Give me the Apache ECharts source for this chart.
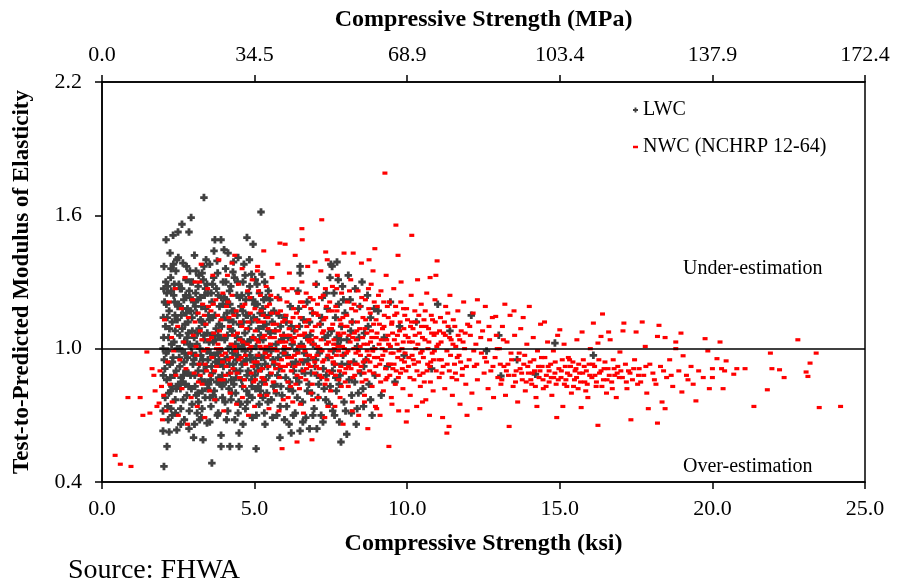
<!DOCTYPE html>
<html>
<head>
<meta charset="utf-8">
<script src="https://cdn.jsdelivr.net/npm/echarts@6/dist/echarts.min.js"></script>
<style>
  html, body { margin: 0; padding: 0; background: #fff; }
  #main { width: 898px; height: 586px; }
</style>
</head>
<body>
<div id="main"></div>
<script>
// axis ticks
var ksiTicks = ['0.0', '5.0', '10.0', '15.0', '20.0', '25.0'];
var mpaTicks = ['0.0', '34.5', '68.9', '103.4', '137.9', '172.4'];
var ratioTicks = ['0.4', '1.0', '1.6', '2.2'];

// LWC: [ksi, test/predicted]
var lwcPoints = [
  [2.0,0.63],[2.03,0.47],[2.03,1.37],[2.05,1.21],[2.08,1.10],[2.1,1.49],[2.1,0.98],[2.12,0.86],[2.13,0.56],[2.15,1.28],[2.15,0.74],[2.18,1.05],[2.2,0.625],[2.2,1.17],[2.22,0.93],[2.23,1.43],[2.25,1.32],[2.25,0.81],[2.28,1.02],[2.3,1.12],[2.3,0.70],[2.33,1.51],[2.33,0.96],[2.35,1.24],[2.37,0.88],[2.4,1.08],[2.4,0.77],[2.42,1.35],[2.45,1.40],[2.45,0.634],[2.46,1.00],[2.48,1.19],[2.49,1.525],[2.5,0.84],
  [2.52,1.29],[2.55,0.92],[2.55,1.06],[2.58,0.73],[2.6,1.15],[2.62,1.56],[2.62,0.99],[2.65,1.385],[2.65,0.85],[2.68,1.22],[2.7,1.03],[2.7,0.68],[2.72,1.11],[2.75,0.90],[2.75,1.31],[2.78,0.79],[2.8,1.18],[2.8,0.96],[2.83,1.07],[2.85,1.525],[2.85,0.64],[2.86,1.26],[2.88,1.35],[2.9,0.88],[2.92,1.59],[2.92,1.01],[2.95,1.14],[2.95,0.75],[2.98,0.93],[3.0,0.60],[3.0,1.21],
  [3.02,1.05],[3.05,0.83],[3.08,1.35],[3.08,0.97],[3.1,1.16],[3.12,0.71],[3.15,1.28],[3.15,0.90],[3.18,1.09],[3.2,0.68],[3.21,1.00],[3.22,1.23],[3.25,0.86],[3.27,1.12],[3.3,0.95],[3.31,0.59],[3.32,1.31],[3.34,1.68],[3.34,1.37],[3.35,1.04],[3.38,0.78],[3.4,1.18],[3.41,1.40],[3.42,0.92],[3.44,0.665],[3.45,1.07],[3.48,1.25],[3.5,0.84],
  [3.52,1.13],[3.55,0.98],[3.57,0.74],[3.6,0.485],[3.6,1.21],[3.62,0.89],[3.65,1.03],[3.67,1.44],[3.68,0.81],[3.7,1.49],[3.7,1.15],[3.72,0.94],[3.75,1.27],[3.77,1.395],[3.78,0.70],[3.8,1.06],[3.82,0.87],[3.85,1.19],[3.87,0.99],[3.9,0.56],[3.9,0.61],[3.9,1.49],[3.92,1.10],[3.95,0.78],[3.97,1.30],[3.98,0.92],
  [4.0,1.445],[4.02,1.04],[4.05,0.85],[4.07,1.22],[4.1,0.96],[4.12,0.72],[4.13,1.43],[4.15,1.13],[4.18,0.89],[4.19,0.56],[4.2,1.01],[4.22,1.28],[4.25,0.80],[4.27,1.08],[4.29,1.345],[4.3,0.93],[4.33,1.17],[4.35,0.68],[4.37,1.02],[4.4,0.87],[4.42,1.24],[4.45,0.97],[4.46,1.41],[4.48,0.76],[4.49,0.56],[4.49,0.62],[4.5,1.11],
  [4.52,0.90],[4.55,1.19],[4.58,1.00],[4.6,0.83],[4.62,1.30],[4.65,1.38],[4.65,0.94],[4.68,1.07],[4.7,0.73],[4.72,1.15],[4.75,1.50],[4.75,0.88],[4.78,1.03],[4.8,1.25],[4.82,0.79],[4.85,0.97],[4.88,1.12],[4.9,1.335],[4.9,0.86],[4.93,0.69],[4.95,1.47],[4.95,1.05],[4.98,0.92],
  [5.0,1.20],[5.03,0.82],[5.05,0.55],[5.05,1.01],[5.08,1.29],[5.1,0.90],[5.13,1.09],[5.15,0.75],[5.18,1.16],[5.21,1.615],[5.22,0.96],[5.24,1.335],[5.25,0.85],[5.28,1.04],[5.3,1.22],[5.32,0.71],[5.35,0.93],[5.38,1.11],[5.4,0.80],[5.42,1.00],[5.45,1.26],[5.48,0.88],
  [5.52,1.07],[5.55,0.77],[5.6,0.95],[5.63,1.17],[5.67,0.84],[5.7,1.02],[5.73,0.70],[5.77,1.23],[5.8,0.91],[5.83,0.60],[5.85,1.10],[5.9,0.79],[5.93,0.98],[5.97,1.14],
  [6.02,0.87],[6.05,0.74],[6.1,1.05],[6.13,0.66],[6.17,1.19],[6.2,0.62],[6.2,0.93],[6.25,0.81],[6.3,1.08],[6.33,0.71],[6.38,0.99],[6.42,1.26],[6.45,0.85],[6.49,1.37],[6.49,1.34],[6.49,0.63],
  [6.53,1.02],[6.57,0.76],[6.6,1.13],[6.65,0.89],[6.68,0.69],[6.72,1.21],[6.75,0.95],[6.8,0.64],[6.82,1.06],[6.87,0.80],[6.9,1.16],[6.95,0.73],[6.98,0.92],
  [7.02,1.29],[7.04,0.64],[7.07,1.00],[7.1,0.84],[7.15,1.11],[7.18,0.70],[7.22,1.23],[7.25,0.91],[7.3,1.05],[7.33,0.77],[7.38,1.18],[7.42,0.96],[7.47,1.32],[7.48,0.83],
  [7.5,1.38],[7.52,1.08],[7.54,1.37],[7.56,0.72],[7.6,1.25],[7.62,0.93],[7.65,1.14],[7.68,0.81],[7.7,1.39],[7.72,1.02],[7.75,1.20],[7.78,0.67],[7.8,0.88],[7.83,0.58],[7.85,1.10],[7.88,1.28],[7.9,0.97],[7.93,0.76],[7.96,1.16],
  [8.02,0.615],[8.03,1.04],[8.07,1.33],[8.1,0.86],[8.13,1.22],[8.17,0.71],[8.2,1.12],[8.25,0.94],[8.3,1.27],[8.33,0.66],[8.37,1.01],[8.4,0.80],[8.45,1.19],[8.48,0.89],
  [8.52,1.30],[8.57,0.74],[8.6,1.07],[8.65,0.95],[8.7,1.24],[8.75,0.84],[8.8,1.14],[8.85,0.70],[8.9,1.00],[8.95,0.88],
  [9.05,1.17],[9.15,0.79],[9.25,1.05],[9.35,0.92],[9.45,1.21],[9.6,0.85],[9.75,1.10],[9.9,0.97],
  [10.3,1.12],[10.8,0.91],[11.0,1.20],[11.4,1.08],[12.1,1.15],[12.6,0.99],[13.0,1.06],[13.07,0.877],[13.6,0.95],[14.2,0.885],[14.84,1.025],[16.1,0.97],
  [2.06,0.91],[2.14,1.14],[2.19,0.80],[2.27,1.26],[2.36,1.03],[2.43,0.90],[2.51,1.20],[2.57,0.82],[2.63,1.09],[2.69,0.94],[2.74,1.24],[2.79,1.05],[2.84,0.83],[2.91,1.17],[2.97,1.30],
  [3.04,0.88],[3.11,1.02],[3.16,0.76],[3.23,1.13],[3.29,0.81],[3.36,1.24],[3.43,0.99],[3.49,1.15],[3.56,0.86],[3.61,1.06],[3.66,1.32],[3.73,0.77],[3.79,0.98],[3.84,1.11],[3.89,0.84],[3.96,1.20],
  [4.04,0.95],[4.09,1.16],[4.16,0.82],[4.21,1.09],[4.28,0.98],[4.34,1.32],[4.39,0.90],[4.44,1.05],[4.51,1.23],[4.57,0.86],[4.63,1.12],[4.69,0.99],[4.74,0.81],[4.81,1.09],[4.87,0.95],[4.94,1.22],
  [5.01,0.88],[5.07,1.13],[5.14,0.97],[5.2,1.06],[5.27,0.78],[5.33,1.15],[5.39,0.99],[5.46,1.08],
  [2.09,1.30],[2.24,0.87],[2.39,1.15],[2.54,1.00],[2.67,0.88],[2.82,1.12],[2.94,0.98],[3.07,1.25],[3.19,0.93],[3.33,1.06],[3.46,0.82],[3.58,1.25],[3.71,1.04],[3.86,0.93],
  [4.01,1.23],[4.14,1.00],[4.26,1.17],[4.41,0.95],[4.56,1.04],[4.71,1.22],[4.86,1.04],[5.11,0.93],[5.26,1.18],[5.36,0.86],[5.49,1.01],[5.58,1.12],[5.75,0.88],[5.88,1.04],
  [6.07,0.97],[6.28,0.90],[6.47,1.10],[6.63,0.98],[6.85,0.89],[7.12,0.98],[7.35,0.88],
  [2.01,0.88],[2.01,1.14],[2.0,0.72],[2.02,1.27],[2.0,1.00],[2.04,0.95],
  [2.02,1.05],[2.07,0.78],[2.11,1.20],[2.16,0.99],[2.21,1.09],[2.26,0.73],[2.31,0.94],[2.34,1.38],[2.38,1.21],[2.44,0.82],[2.47,1.13],[2.53,0.96],[2.56,1.27],[2.59,0.87],[2.64,1.18],[2.66,0.77],[2.71,0.98],[2.76,1.16],[2.81,0.89],[2.87,1.02],[2.89,1.23],[2.93,0.82],[2.96,1.08],
  [3.01,0.95],[3.06,1.19],[3.09,0.79],[3.13,1.07],[3.17,1.33],[3.24,0.97],[3.26,1.19],[3.28,0.73],[3.34,0.90],[3.37,1.11],[3.44,1.29],[3.47,0.95],[3.51,1.03],[3.54,0.78],[3.59,0.92],[3.63,1.14],[3.69,0.97],[3.74,1.09],[3.76,0.85],[3.81,1.24],[3.83,0.95],[3.88,1.05],[3.94,0.88],[3.99,1.14],
  [4.03,0.76],[4.06,1.30],[4.11,1.06],[4.17,0.93],[4.19,1.20],[4.24,0.86],[4.3,1.12],[4.36,0.99],[4.38,0.80],[4.43,1.15],[4.47,1.01],[4.53,0.75],[4.59,0.93],[4.61,1.17],[4.66,1.02],[4.73,0.95],[4.77,1.15],[4.79,0.90],[4.84,1.28],[4.89,1.00],[4.92,0.78],[4.97,1.14],
  [5.04,0.96],[5.09,1.20],[5.12,0.83],[5.17,1.04],[5.23,0.91],[5.29,1.10],[5.31,0.96],[5.37,1.23],[5.43,0.92],[5.47,1.15],[5.54,0.99],[5.62,0.83],[5.68,1.08],[5.78,0.96],[5.86,0.83],[5.95,1.06],
  [6.04,1.12],[6.15,0.85],[6.23,1.02],[6.35,0.94],[6.44,1.18],[6.55,0.90],[6.7,1.05],[6.78,0.84],[6.92,1.02],[7.05,0.88],[7.2,1.14],[7.28,0.82],[7.4,1.06],[7.58,0.99],[7.66,0.87],[7.74,1.31],[7.82,1.04],[7.91,1.22],
  [8.05,0.93],[8.15,1.08],[8.28,0.85],[8.42,1.05],[8.58,0.92],[8.72,1.10],[8.92,1.18],
  [2.17,0.68],[2.29,0.83],[2.41,0.71],[2.58,0.66],[2.73,0.84],[2.86,0.72],[3.03,0.66],[3.14,0.80],[3.26,0.69],[3.39,0.85],[3.53,0.67],[3.64,0.79],[3.81,0.71],[3.93,0.83],
  [4.08,0.68],[4.23,0.77],[4.32,0.84],[4.46,0.71],[4.62,0.66],[4.76,0.76],[4.91,0.83],[5.06,0.70],[5.19,0.81],[5.34,0.66],[5.44,0.76],[5.59,0.69],[5.71,0.80],[5.84,0.74],[5.98,0.68],
  [6.12,0.82],[6.27,0.70],[6.4,0.78],[6.58,0.67],[6.73,0.81],[6.91,0.70],[7.08,0.78],[7.24,0.67],[7.45,0.75],[7.62,0.70],[7.77,0.84],[7.98,0.72],[8.18,0.79],[8.36,0.73],[8.55,0.82],[8.8,0.77],
  [2.12,1.25],[2.26,1.36],[2.37,1.29],[2.5,1.41],[2.61,1.27],[2.77,1.37],[2.9,1.30],[3.03,1.42],[3.14,1.22],[3.28,1.34],[3.39,1.27],[3.53,1.38],[3.62,1.29],[3.79,1.34],[3.91,1.23],
  [4.05,1.36],[4.18,1.26],[4.31,1.39],[4.44,1.30],[4.58,1.24],[4.69,1.33],[4.83,1.40],[5.02,1.31],[5.16,1.25],[5.33,1.30],[5.5,1.22],
  [5.65,0.93],[5.8,1.15],[6.0,1.00],[6.2,1.10],[6.37,0.87],[6.6,0.94],[6.8,1.12],[7.0,0.95],[7.17,0.87],[7.35,1.25],[7.55,0.90],[7.7,1.05],[7.86,0.93]
];

// NWC (NCHRP 12-64): [ksi, test/predicted]
var nwcPoints = [
  [0.43,0.52],[0.6,0.48],[0.95,0.47],[0.85,0.78],[1.25,0.78],[1.34,0.70],[1.47,0.985],[1.57,0.71],[1.64,0.91],[1.7,0.88],[1.74,0.81],[1.8,0.74],[1.87,0.755],[1.9,0.90],[1.95,0.83],[1.98,0.68],
  [2.02,0.79],[2.05,1.13],[2.1,0.72],[2.15,0.94],[2.2,1.21],[2.22,0.84],[2.28,1.05],[2.3,0.76],[2.35,0.99],[2.4,1.27],[2.42,0.88],[2.48,1.10],[2.5,0.70],[2.55,0.95],[2.6,1.18],[2.62,0.82],[2.68,1.03],[2.72,1.32],[2.75,0.91],[2.8,0.66],[2.83,1.14],[2.88,0.98],[2.92,0.78],[2.97,1.22],[2.99,1.06],
  [3.02,0.89],[3.05,1.30],[3.08,1.01],[3.12,0.74],[3.15,1.16],[3.18,0.93],[3.2,1.30],[3.22,1.08],[3.25,1.38],[3.28,0.84],[3.3,1.20],[3.33,0.99],[3.37,0.69],[3.4,1.11],[3.43,0.90],[3.46,1.27],[3.5,1.04],[3.53,0.81],[3.57,1.17],[3.6,0.96],[3.63,1.33],[3.66,1.07],[3.7,0.77],[3.73,1.22],[3.76,0.92],[3.8,1.02],[3.83,1.40],[3.86,0.86],[3.9,1.13],[3.93,0.97],[3.96,1.25],[3.99,0.72],
  [4.02,1.06],[4.05,0.88],[4.08,1.19],[4.11,1.33],[4.14,0.95],[4.17,1.10],[4.2,0.80],[4.23,1.02],[4.26,1.24],[4.26,1.385],[4.29,0.91],[4.32,1.15],[4.35,1.42],[4.38,0.99],[4.41,0.75],[4.44,1.07],[4.47,1.29],[4.5,0.87],[4.53,1.12],[4.56,0.96],[4.59,1.36],[4.62,1.03],[4.65,0.83],[4.68,1.20],[4.71,0.93],[4.74,1.09],[4.77,1.26],[4.8,0.70],[4.83,1.00],[4.86,1.16],[4.89,0.89],[4.92,1.31],[4.95,1.05],[4.98,0.94],
  [5.01,1.18],[5.03,0.86],[5.06,1.04],[5.09,1.35],[5.1,1.37],[5.11,0.97],[5.14,1.12],[5.17,0.79],[5.19,1.24],[5.22,1.00],[5.25,0.91],[5.28,1.15],[5.3,1.44],[5.33,1.06],[5.36,0.84],[5.38,1.28],[5.41,0.96],[5.44,1.09],[5.47,0.73],[5.49,1.20],[5.52,1.02],[5.55,0.89],[5.57,1.32],[5.6,1.11],[5.63,0.94],[5.65,1.05],[5.68,0.81],[5.71,1.23],[5.74,0.99],[5.76,1.38],[5.79,1.08],[5.82,0.87],[5.83,1.475],[5.85,1.17],[5.88,0.95],[5.9,0.55],[5.91,1.03],[5.94,0.77],[5.96,1.27],[5.99,1.13],
  [6.0,1.47],[6.01,0.92],[6.04,1.06],[6.06,1.21],[6.09,0.85],[6.12,1.00],[6.14,1.34],[6.17,1.12],[6.2,0.90],[6.22,1.04],[6.25,0.76],[6.28,1.18],[6.3,0.97],[6.33,1.42],[6.36,1.08],[6.39,0.58],[6.39,0.88],[6.41,1.25],[6.44,1.01],[6.47,0.82],[6.49,1.14],[6.52,0.95],[6.55,1.30],[6.55,1.54],[6.56,1.49],[6.57,1.06],[6.6,0.71],[6.63,1.19],[6.65,0.99],[6.68,0.86],[6.71,1.10],[6.74,1.37],[6.76,0.93],[6.79,1.03],[6.82,1.23],[6.85,0.80],[6.88,0.59],[6.88,1.08],[6.9,0.96],[6.93,1.16],[6.96,0.89],[6.98,1.29],[6.98,1.39],
  [7.01,1.05],[7.03,0.92],[7.06,1.20],[7.09,0.78],[7.11,1.11],[7.14,1.00],[7.17,1.35],[7.2,1.58],[7.2,0.87],[7.22,1.07],[7.25,1.24],[7.28,0.95],[7.3,0.69],[7.33,1.14],[7.33,1.435],[7.36,1.02],[7.38,1.40],[7.41,0.90],[7.44,1.17],[7.47,0.99],[7.49,0.81],[7.52,1.09],[7.55,1.28],[7.57,0.94],[7.6,1.04],[7.63,0.74],[7.66,1.19],[7.68,0.97],[7.71,1.33],[7.74,1.07],[7.76,0.86],[7.79,1.13],[7.82,0.92],[7.85,1.25],[7.88,1.01],[7.9,0.66],[7.93,1.43],[7.95,0.89],[7.98,1.10],
  [8.01,0.98],[8.04,1.21],[8.07,0.83],[8.09,1.06],[8.12,0.94],[8.15,1.31],[8.17,1.12],[8.2,0.76],[8.23,1.43],[8.25,1.00],[8.28,0.88],[8.31,1.17],[8.33,1.04],[8.36,0.93],[8.39,1.26],[8.41,0.70],[8.44,1.09],[8.47,0.97],[8.5,1.385],[8.52,0.85],[8.55,1.14],[8.58,1.02],[8.6,0.79],[8.63,1.22],[8.66,0.95],[8.68,1.07],[8.71,0.64],[8.74,1.18],[8.75,1.40],[8.77,0.90],[8.8,1.03],[8.82,1.29],[8.85,0.83],[8.88,1.35],[8.9,1.11],[8.93,0.96],[8.94,1.45],[8.96,0.74],[8.99,1.05],
  [9.02,1.19],[9.05,0.88],[9.08,1.02],[9.11,0.70],[9.14,1.26],[9.16,0.95],[9.19,1.09],[9.22,0.81],[9.25,1.15],[9.27,1.79],[9.28,0.99],[9.31,1.33],[9.34,0.87],[9.37,1.06],[9.4,0.56],[9.4,0.93],[9.42,1.21],[9.45,1.01],[9.48,0.78],[9.5,1.12],[9.53,0.91],[9.56,1.27],[9.58,1.04],[9.61,0.84],[9.63,1.556],[9.66,1.16],[9.69,0.96],[9.7,1.42],[9.72,0.72],[9.75,1.08],[9.78,0.89],[9.8,1.30],[9.83,1.00],[9.86,0.82],[9.88,1.18],[9.91,0.94],[9.94,1.06],[9.97,0.67],
  [10.01,1.13],[10.04,0.92],[10.07,1.03],[10.1,0.79],[10.13,1.24],[10.15,1.51],[10.16,0.97],[10.19,1.09],[10.22,0.86],[10.25,1.17],[10.28,1.00],[10.31,0.74],[10.34,1.31],[10.37,0.94],[10.4,1.07],[10.43,0.83],[10.46,1.20],[10.49,0.99],[10.52,0.89],[10.55,1.13],[10.58,1.04],[10.61,0.77],[10.64,1.25],[10.67,0.93],[10.7,1.09],[10.73,0.70],[10.75,1.32],[10.76,0.85],[10.79,1.15],[10.82,0.98],[10.85,0.81],[10.88,1.06],[10.91,1.22],[10.94,1.33],[10.95,0.90],[10.98,1.395],
  [11.02,1.02],[11.05,0.87],[11.09,1.14],[11.12,0.95],[11.16,0.69],[11.19,1.07],[11.23,0.82],[11.26,1.19],[11.3,0.62],[11.3,0.99],[11.34,1.10],[11.37,0.65],[11.38,0.90],[11.4,1.24],[11.44,1.04],[11.48,0.79],[11.51,1.13],[11.55,0.93],[11.59,1.01],[11.62,0.86],[11.66,1.17],[11.7,0.97],[11.73,0.75],[11.77,1.08],[11.81,0.91],[11.85,1.21],[11.88,1.00],[11.92,0.84],[11.96,0.70],[11.98,1.11],
  [12.03,0.95],[12.07,1.06],[12.12,0.80],[12.16,1.16],[12.2,0.92],[12.25,1.02],[12.3,0.86],[12.3,1.22],[12.34,1.12],[12.38,0.73],[12.43,0.98],[12.47,1.08],[12.52,0.89],[12.56,1.19],[12.6,0.94],[12.65,0.82],[12.7,1.04],[12.74,0.90],[12.79,1.14],[12.83,0.78],[12.88,0.96],[12.9,1.145],[12.92,1.06],[12.97,0.87],
  [13.02,1.00],[13.07,0.84],[13.12,1.10],[13.17,0.92],[13.2,1.20],[13.22,0.79],[13.27,1.03],[13.32,0.88],[13.34,0.65],[13.37,1.15],[13.42,0.95],[13.47,0.83],[13.5,1.17],[13.52,1.06],[13.57,0.90],[13.62,0.76],[13.67,0.98],[13.72,1.09],[13.77,0.86],[13.8,1.14],[13.82,0.93],[13.87,0.81],[13.92,1.02],[13.97,0.89],[14.0,1.19],
  [14.03,0.94],[14.08,0.84],[14.13,1.05],[14.17,0.90],[14.22,0.78],[14.25,0.74],[14.27,0.99],[14.32,0.87],[14.37,1.11],[14.42,0.92],[14.46,0.82],[14.5,1.12],[14.51,0.96],[14.56,0.88],[14.6,1.03],[14.65,0.85],[14.7,0.93],[14.74,0.79],[14.79,0.99],[14.84,0.89],[14.88,0.84],[14.9,0.69],[14.93,1.06],[14.97,0.91],
  [15.0,1.085],[15.04,0.87],[15.1,0.74],[15.14,1.02],[15.18,0.92],[15.23,0.83],[15.28,0.96],[15.33,0.88],[15.38,0.80],[15.43,0.94],[15.48,0.86],[15.53,0.91],[15.56,1.04],[15.6,0.82],[15.65,0.89],[15.7,0.735],[15.73,1.075],[15.77,0.95],[15.82,0.85],[15.87,0.90],[15.92,0.78],[15.96,0.93],
  [16.0,1.0],[16.05,0.87],[16.1,1.115],[16.14,0.92],[16.19,0.83],[16.25,1.025],[16.25,0.655],[16.3,0.89],[16.35,1.055],[16.4,1.156],[16.43,0.86],[16.48,0.94],[16.53,0.80],[16.58,0.91],[16.6,1.075],[16.65,1.04],[16.7,0.85],[16.75,0.95],[16.8,0.88],[16.85,0.78],[16.9,0.92],[16.97,0.985],
  [17.05,0.87],[17.07,1.08],[17.1,1.115],[17.15,0.93],[17.2,0.82],[17.25,0.90],[17.33,0.68],[17.38,0.86],[17.45,0.95],[17.5,1.075],[17.55,0.84],[17.6,0.91],[17.7,1.12],[17.75,0.88],[17.8,1.01],[17.85,0.80],[17.9,0.73],[17.95,0.93],
  [18.05,0.89],[18.15,0.84],[18.2,1.055],[18.2,0.665],[18.25,1.105],[18.3,0.92],[18.35,0.76],[18.45,1.05],[18.45,0.73],[18.5,0.87],[18.6,0.95],[18.7,0.83],[18.8,1.0],[18.8,1.03],[18.9,0.90],[18.97,1.07],
  [19.0,0.805],[19.04,0.968],[19.15,0.88],[19.3,0.92],[19.37,0.84],[19.46,0.765],[19.55,0.90],[19.7,0.87],[19.76,1.045],[19.85,0.99],[19.9,0.82],[20.0,0.91],[20.0,0.87],
  [20.15,0.955],[20.25,1.03],[20.3,0.91],[20.35,0.82],[20.4,0.90],[20.45,0.945],[20.7,0.885],[20.8,0.91],[21.07,0.91],[21.36,0.74],[21.8,0.815],[21.9,0.98],[21.95,0.91],[22.2,0.905],[22.35,0.87],[22.8,1.04],[23.07,0.895],[23.13,0.875],[23.2,0.935],[23.4,0.98],[23.5,0.735],[24.2,0.74],
  [4.04,0.98],[4.13,1.21],[4.22,0.89],[4.31,1.06],[4.4,1.17],[4.49,0.95],[4.58,1.10],[4.67,0.86],[4.76,1.02],[4.85,1.23],[4.94,0.92],
  [5.02,1.08],[5.08,0.94],[5.13,1.26],[5.18,1.01],[5.24,0.87],[5.29,1.12],[5.34,0.98],[5.4,1.19],[5.45,0.92],[5.5,1.05],[5.56,1.16],[5.61,0.85],[5.66,1.00],[5.72,1.11],[5.77,0.93],[5.83,1.22],[5.88,1.06],[5.93,0.90],[5.98,1.01],
  [6.03,1.15],[6.08,0.96],[6.13,1.09],[6.18,0.83],[6.23,1.27],[6.27,1.03],[6.32,0.92],[6.37,1.16],[6.42,0.98],[6.46,1.06],[6.51,0.87],[6.56,1.21],[6.61,1.01],[6.66,1.12],[6.7,0.91],[6.75,1.04],[6.8,0.97],[6.84,1.18],[6.89,0.84],[6.94,1.02],[6.99,1.10],
  [7.04,0.97],[7.08,1.15],[7.13,0.88],[7.18,1.04],[7.23,0.94],[7.27,1.13],[7.32,1.27],[7.37,0.86],[7.42,1.03],[7.46,1.21],[7.51,0.96],[7.56,1.11],[7.61,1.00],[7.65,0.88],[7.7,1.17],[7.75,0.99],[7.8,1.06],[7.84,0.83],[7.89,1.14],[7.94,1.00],[7.99,0.91],
  [8.03,1.10],[8.08,0.92],[8.13,1.03],[8.18,1.18],[8.22,0.87],[8.27,1.07],[8.32,0.98],[8.37,1.12],[8.42,0.90],[8.46,1.01],[8.51,1.23],[8.56,0.94],[8.61,1.09],[8.65,0.86],[8.7,1.02],[8.75,0.97],[8.79,1.16],[8.84,1.05],[8.89,0.89],[8.94,1.00],[8.98,1.13],
  [9.03,0.96],[9.09,1.11],[9.13,0.85],[9.18,1.00],[9.23,1.21],[9.29,0.91],[9.33,1.04],[9.38,1.14],[9.43,0.88],[9.47,0.98],[9.52,1.07],[9.57,0.93],[9.62,1.19],[9.67,1.02],[9.71,0.87],[9.77,1.12],[9.82,0.95],[9.87,1.03],[9.92,1.15],[9.96,0.90],
  [10.03,1.05],[10.09,0.87],[10.14,1.12],[10.2,0.95],[10.26,1.06],[10.32,0.90],[10.38,1.15],[10.44,0.98],[10.5,1.05],[10.56,0.85],[10.62,1.10],[10.68,1.00],[10.74,0.92],[10.8,1.07],[10.86,0.95],[10.92,1.12],[10.97,1.01],
  [11.06,1.08],[11.14,0.89],[11.22,1.12],[11.31,0.93],[11.39,1.05],[11.47,0.87],[11.56,1.10],[11.64,0.96],[11.72,1.04],[11.8,0.88],[11.9,1.07],
  [3.05,1.12],[3.16,0.85],[3.27,1.04],[3.38,0.93],[3.49,1.19],[3.59,1.05],[3.69,0.90],[3.79,1.15],[3.89,1.00],[3.97,0.86],
  [13.1,0.86],[13.3,0.93],[13.5,0.88],[13.7,0.91],[13.9,0.85],[14.1,0.89],[14.3,0.92],[14.45,0.86],[14.65,0.90],[14.8,0.87],[15.05,0.90],[15.2,0.86],[15.35,0.92],[15.55,0.87],[15.75,0.89],[15.9,0.84],[16.15,0.88],[16.35,0.90],[16.55,0.86],[16.78,0.91],[16.95,0.87],[17.3,0.89],[17.65,0.85],
  [4.07,0.92],[4.16,1.14],[4.25,0.96],[4.34,1.01],[4.43,0.89],[4.52,1.04],[4.61,1.19],[4.7,0.97],[4.79,1.12],[4.88,1.01],[4.97,0.85],
  [5.04,1.13],[5.12,1.03],[5.16,0.90],[5.21,1.17],[5.27,1.05],[5.31,0.86],[5.37,1.01],[5.43,1.14],[5.48,0.97],[5.53,1.24],[5.58,1.00],[5.64,1.08],[5.69,0.91],[5.75,1.16],[5.8,1.03],[5.86,0.92],[5.92,1.12],[5.97,0.98],
  [6.02,1.03],[6.07,1.26],[6.11,0.93],[6.16,1.06],[6.21,0.96],[6.26,1.14],[6.31,1.05],[6.35,0.84],[6.4,1.10],[6.45,0.93],[6.5,1.21],[6.54,1.01],[6.59,0.90],[6.64,1.07],[6.69,1.25],[6.73,0.97],[6.78,1.13],[6.83,0.92],[6.87,1.04],[6.92,1.22],[6.97,0.94],
  [7.02,1.16],[7.07,1.01],[7.12,0.91],[7.16,1.23],[7.21,0.99],[7.26,1.08],[7.31,0.84],[7.35,1.19],[7.4,0.97],[7.45,1.09],[7.5,0.89],[7.54,1.17],[7.59,1.02],[7.64,0.93],[7.69,1.27],[7.73,1.01],[7.78,0.90],[7.83,1.11],[7.87,0.97],[7.92,1.07],[7.97,0.85],
  [8.02,1.15],[8.06,0.99],[8.11,1.26],[8.16,0.91],[8.21,1.05],[8.26,1.20],[8.3,0.93],[8.35,1.08],[8.4,0.99],[8.45,1.19],[8.49,0.92],[8.54,1.05],[8.59,0.89],[8.64,1.13],[8.69,0.99],[8.73,1.27],[8.78,0.94],[8.83,1.08],[8.87,0.99],[8.92,1.21],[8.97,0.92],
  [9.01,1.07],[9.06,1.24],[9.1,0.93],[9.15,1.04],[9.2,0.97],[9.24,1.10],[9.3,0.86],[9.35,1.19],[9.39,1.02],[9.44,0.93],[9.49,1.11],[9.54,0.98],[9.59,1.15],[9.64,0.90],[9.68,1.06],[9.73,0.99],[9.79,1.21],[9.84,0.91],[9.89,1.09],[9.93,0.98],[9.98,1.18],
  [10.05,0.96],[10.11,1.10],[10.17,1.03],[10.23,0.93],[10.29,1.12],[10.35,1.02],[10.41,0.88],[10.47,1.10],[10.53,0.96],[10.59,1.17],[10.65,0.90],[10.71,1.03],[10.77,0.94],[10.83,1.13],[10.89,0.99],[10.96,1.07],
  [11.04,0.95],[11.11,1.03],[11.18,0.92],[11.25,1.06],[11.33,1.16],[11.42,0.97],[11.5,1.02],[11.58,0.89],[11.67,1.06],[11.75,0.94],[11.83,1.03],[11.94,0.92],
  [12.05,1.10],[12.18,0.99],[12.28,0.93],[12.41,1.05],[12.54,0.96],[12.68,1.10],[12.81,0.92],[12.95,1.00],
  [13.05,0.93],[13.15,1.04],[13.25,0.90],[13.4,0.98],[13.55,0.85],[13.65,0.95],[13.75,0.89],[13.85,0.97],[13.95,0.92],
  [14.05,0.86],[14.15,0.95],[14.2,0.83],[14.35,0.90],[14.4,0.96],[14.55,0.83],[14.62,0.92],[14.72,0.87],[14.85,0.94],[14.95,0.86],
  [15.08,0.95],[15.15,0.84],[15.25,0.89],[15.32,0.95],[15.45,0.83],[15.5,0.90],[15.62,0.93],[15.68,0.85],[15.8,0.92],[15.85,0.81],[15.98,0.88],
  [16.08,0.93],[16.2,0.85],[16.28,0.95],[16.38,0.83],[16.45,0.91],[16.62,0.88],[16.72,0.82],[16.88,0.89],[17.0,0.90],[17.18,0.85],[17.42,0.91],[17.58,0.88],[17.82,0.92],[18.1,0.86],[18.4,0.90],[18.65,0.88],[19.2,0.86],
  [3.1,0.97],[3.22,0.88],[3.35,1.15],[3.45,1.00],[3.55,0.88],[3.65,1.20],[3.75,1.00],[3.85,1.08],[3.95,0.94],
  [4.6,0.78],[5.0,0.74],[5.4,0.79],[5.8,0.72],[6.1,0.78],[6.5,0.75],[6.9,0.77],[7.4,0.74],[7.8,0.78],[8.2,0.72],[8.6,0.76],[9.0,0.73],[9.5,0.75],[10.0,0.72],[10.5,0.76]
];

var serif = '"Liberation Serif", "Times New Roman", serif';
var plusPath = 'path://M2.5,0H5.5V2.5H8V5.5H5.5V8H2.5V5.5H0V2.5H2.5Z';
var dashPath = 'path://M0,0H6V3H0Z';

var myChart = echarts.init(document.getElementById('main'));

var option = {
  animation: false,
  backgroundColor: '#fff',
  textStyle: { fontFamily: serif, color: '#000' },
  grid: {
    left: 102, right: 33, top: 82, bottom: 104,
    show: true, borderColor: '#000', borderWidth: 1.5, backgroundColor: 'transparent'
  },
  legend: {
    orient: 'vertical',
    left: 633, top: 100,
    itemWidth: 5, itemHeight: 5, itemGap: 17,
    padding: 0,
    textStyle: { fontFamily: serif, fontSize: 20, color: '#000' },
    data: [
      { name: 'LWC', icon: plusPath, itemStyle: { color: '#404040' } },
      { name: 'NWC (NCHRP 12-64)', icon: dashPath, itemStyle: { color: '#ff0000' } }
    ]
  },
  xAxis: [
    {
      type: 'value', position: 'bottom', min: 0, max: 25, interval: 5,
      name: 'Compressive Strength (ksi)', nameLocation: 'middle', nameGap: 50,
      nameTextStyle: { fontFamily: serif, fontSize: 24, fontWeight: 'bold', color: '#000' },
      axisLine: { lineStyle: { color: '#000', width: 1.5 } },
      axisTick: { inside: false, length: 7, lineStyle: { color: '#000', width: 1.5 } },
      axisLabel: {
        margin: 16, fontFamily: serif, fontSize: 22, color: '#000',
        formatter: function (v) { return ksiTicks[Math.round(v / 5)]; }
      },
      splitLine: { show: false }
    },
    {
      type: 'value', position: 'top', min: 0, max: 25, interval: 5,
      name: 'Compressive Strength (MPa)', nameLocation: 'middle', nameGap: 50,
      nameTextStyle: { fontFamily: serif, fontSize: 24, fontWeight: 'bold', color: '#000' },
      axisLine: { lineStyle: { color: '#000', width: 1.5 } },
      axisTick: { inside: false, length: 7, lineStyle: { color: '#000', width: 1.5 } },
      axisLabel: {
        margin: 16, fontFamily: serif, fontSize: 22, color: '#000',
        formatter: function (v) { return mpaTicks[Math.round(v / 5)]; }
      },
      splitLine: { show: false }
    }
  ],
  yAxis: {
    type: 'value', min: 0.4, max: 2.2, interval: 0.6,
    name: 'Test-to-Predicted Modulus of Elasticity', nameLocation: 'middle', nameGap: 68,
    nameTextStyle: { fontFamily: serif, fontSize: 23, fontWeight: 'bold', color: '#000' },
    axisLine: { show: true, lineStyle: { color: '#000', width: 1.5 } },
    axisTick: { show: true, inside: false, length: 7, lineStyle: { color: '#000', width: 1.5 } },
    axisLabel: {
      margin: 20, fontFamily: serif, fontSize: 22, color: '#000',
      formatter: function (v) { return ratioTicks[Math.round((v - 0.4) / 0.6)]; }
    },
    splitLine: { show: false }
  },
  series: [
    {
      name: 'LWC', type: 'scatter', xAxisIndex: 0,
      symbol: plusPath, symbolSize: 7.5,
      itemStyle: { color: '#404040', opacity: 1 },
      data: lwcPoints, z: 2
    },
    {
      name: 'NWC (NCHRP 12-64)', type: 'scatter', xAxisIndex: 0,
      symbol: 'rect', symbolSize: [5, 3.2],
      itemStyle: { color: '#ff0000', opacity: 1 },
      data: nwcPoints, z: 3,
      markLine: {
        silent: true, symbol: 'none', animation: false,
        label: { show: false },
        lineStyle: { color: '#000', width: 1.5, type: 'solid' },
        data: [{ yAxis: 1.0 }]
      }
    }
  ],
  graphic: [
    { type: 'text', left: 683, top: 259,
      style: { text: 'Under-estimation', font: '20px ' + serif, fill: '#000' } },
    { type: 'text', left: 683, top: 457,
      style: { text: 'Over-estimation', font: '20px ' + serif, fill: '#000' } },
    { type: 'text', left: 68, top: 557,
      style: { text: 'Source: FHWA', font: '28px ' + serif, fill: '#000' } }
  ]
};

myChart.setOption(option);
</script>
</body>
</html>
